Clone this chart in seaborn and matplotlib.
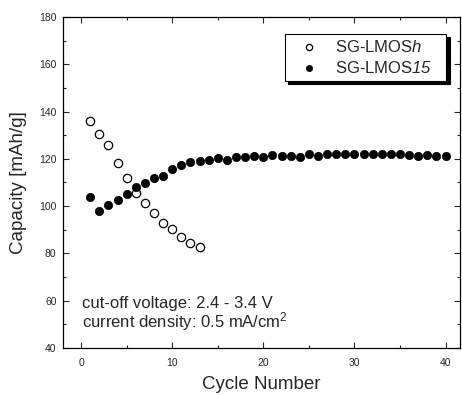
import matplotlib
matplotlib.use("Agg")
import matplotlib.pyplot as plt
import seaborn as sns
import pandas as pd
from matplotlib.ticker import MultipleLocator

cycles_h = list(range(1, 14))
cap_h = [136.1, 130.7, 125.8, 118.1, 111.7, 105.4, 101.4, 97.2, 93.0, 90.2, 87.0, 84.2, 82.8]

cycles_15 = list(range(1, 41))
cap_15 = [104.0, 97.9, 100.4, 102.6, 105.1, 107.9, 109.9, 111.7, 112.8, 115.5,
          117.6, 118.5, 119.0, 119.5, 120.4, 119.7, 120.9, 120.6, 121.1, 120.9,
          121.6, 121.1, 121.1, 120.6, 121.9, 121.3, 122.0, 121.9, 121.9, 121.9,
          121.9, 121.9, 121.9, 122.0, 121.9, 121.6, 121.1, 121.6, 121.1, 121.4]

series_names = ["SG-LMOS$\\mathsf{h}$", "SG-LMOS$\\mathsf{15}$"]
x_ticks = [0, 10, 20, 30, 40]
y_ticks = [40, 60, 80, 100, 120, 140, 160, 180]

sns.set_style("ticks")
plt.rcParams["font.family"] = ["Liberation Sans", "DejaVu Sans"]
plt.rcParams["mathtext.fontset"] = "custom"
plt.rcParams["mathtext.rm"] = "Liberation Sans"
plt.rcParams["mathtext.it"] = "Liberation Sans:italic"
plt.rcParams["mathtext.sf"] = "Liberation Sans:italic"

df_h = pd.DataFrame({"cycle": cycles_h, "cap": cap_h})
df_15 = pd.DataFrame({"cycle": cycles_15, "cap": cap_15})

fig = plt.figure(figsize=(4.62, 3.95), dpi=100)
ax = fig.add_axes([0.136, 0.119, 0.860, 0.838])

sns.scatterplot(data=df_h, x="cycle", y="cap", ax=ax, marker="o", s=36,
                facecolor="white", edgecolor="black", linewidth=0.9,
                label=series_names[0], zorder=3)
sns.scatterplot(data=df_15, x="cycle", y="cap", ax=ax, marker="o", s=36,
                color="black", edgecolor="black", linewidth=0.5,
                label=series_names[1], zorder=3)

ax.set_xlim(-2.0, 41.6)
ax.set_ylim(40, 180)
ax.set_xticks(x_ticks)
ax.set_yticks(y_ticks)
ax.xaxis.set_minor_locator(MultipleLocator(5))
ax.yaxis.set_minor_locator(MultipleLocator(10))
ax.tick_params(which="both", direction="in", top=True, right=True,
               labelsize=7.5, width=0.8)
ax.tick_params(axis="x", which="major", pad=7)
ax.tick_params(axis="y", which="major", pad=4.5)
ax.tick_params(which="major", length=4.5)
ax.tick_params(which="minor", length=2.5)
for sp in ax.spines.values():
    sp.set_linewidth(0.9)
    sp.set_color("black")

ax.set_xlabel("Cycle Number", fontsize=13.5, labelpad=6)
ax.set_ylabel("Capacity [mAh/g]", fontsize=13.5, labelpad=9)

leg = ax.legend(loc="upper right", bbox_to_anchor=(0.559, 0.949, 0.406, 0.0),
                mode="expand", frameon=True,
                fancybox=False, shadow={"color": "black", "alpha": 1, "ox": 2.5, "oy": -2.5},
                fontsize=12, handletextpad=0.42, borderpad=0.3,
                labelspacing=0.3, borderaxespad=0.0, handlelength=2.28,
                markerscale=0.75)
leg.get_frame().set_edgecolor("black")
leg.get_frame().set_linewidth(0.8)

ax.text(0.047, 0.121, "cut-off voltage: 2.4 - 3.4 V", transform=ax.transAxes,
        fontsize=12, va="baseline")
ax.text(0.047, 0.063, "current density: 0.5 mA/cm$^2$", transform=ax.transAxes,
        fontsize=12, va="baseline")

fig.savefig("out.png", dpi=100)
